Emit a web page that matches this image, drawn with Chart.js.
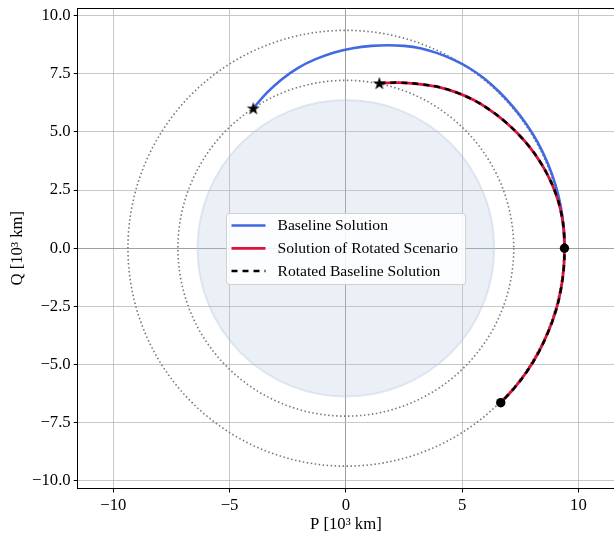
<!DOCTYPE html>
<html><head><meta charset="utf-8">
<script src="https://cdn.jsdelivr.net/npm/chart.js@4.4.0/dist/chart.umd.min.js"></script>
<style>html,body{margin:0;padding:0;background:#fff;overflow:hidden}#wrap{width:614px;height:533px;position:relative}</style>
</head><body><div id="wrap"><canvas id="c" width="614" height="533"></canvas></div>
<script>
// ---- data ----
const seriesLabels = ['Baseline Solution', 'Solution of Rotated Scenario', 'Rotated Baseline Solution'];
const baselineP = [-3.98, -3.40, -2.75, -2.05, -1.30, -0.50, 0.30, 1.10, 1.80, 2.50, 3.20, 3.90, 4.60, 5.30, 5.95, 6.60, 7.20, 7.75, 8.25, 8.68, 9.02, 9.25, 9.37, 9.40];
const baselineQ = [6.02, 6.68, 7.27, 7.76, 8.13, 8.42, 8.60, 8.70, 8.73, 8.70, 8.60, 8.40, 8.12, 7.75, 7.30, 6.72, 6.07, 5.35, 4.55, 3.65, 2.70, 1.75, 0.85, 0.00];
const rotatedP = [1.44, 2.32, 3.15, 3.95, 4.75, 5.50, 6.20, 6.85, 7.42, 7.92, 8.33, 8.70, 9.00, 9.22, 9.36, 9.40, 9.37, 9.25, 9.04, 8.72, 8.30, 7.80, 7.25, 6.66];
const rotatedQ = [7.10, 7.12, 7.06, 6.94, 6.70, 6.37, 5.94, 5.44, 4.90, 4.33, 3.75, 3.10, 2.42, 1.70, 0.90, 0.00, -0.85, -1.75, -2.65, -3.55, -4.45, -5.28, -6.00, -6.64];
const startP = [-3.98, 1.44];
const startQ = [6.02, 7.10];
const endP = [9.40, 6.66];
const endQ = [0.00, -6.64];
const earthRadius = 6.378;
const orbitRadii = [7.22, 9.37];
const xTicks = [-10, -5, 0, 5, 10];
const xTickLabels = ['\u221210', '\u22125', '0', '5', '10'];
const yTicks = [-10, -7.5, -5, -2.5, 0, 2.5, 5, 7.5, 10];
const yTickLabels = ['\u221210.0', '\u22127.5', '\u22125.0', '\u22122.5', '0.0', '2.5', '5.0', '7.5', '10.0'];
const xLimits = [-11.53, 11.53];
const yLimits = [-10.33, 10.33];
const xTitle = 'P [10\u00b3 km]';
const yTitle = 'Q [10\u00b3 km]';

// ---- styling ----
const FONT = '"Liberation Serif", "Times New Roman", serif';
const pts = (P, Q) => P.map((p, i) => ({x: p, y: Q[i]}));

function makeStar(R) {
  const s = Math.ceil(R * 2 + 2);
  const c = document.createElement('canvas');
  c.width = s; c.height = s;
  const g = c.getContext('2d');
  const r = R * 0.381966;
  g.beginPath();
  for (let k = 0; k < 10; k++) {
    const a = -Math.PI / 2 + k * Math.PI / 5;
    const rr = k % 2 === 0 ? R : r;
    const px = s / 2 + rr * Math.cos(a), py = s / 2 + rr * Math.sin(a) + R * 0.08;
    k === 0 ? g.moveTo(px, py) : g.lineTo(px, py);
  }
  g.closePath();
  g.fillStyle = '#000';
  g.fill();
  return c;
}
const starImg = makeStar(6.9);

const circlesPlugin = {
  id: 'circles',
  beforeDatasetsDraw(chart) {
    const {ctx, scales: {x, y}} = chart;
    const cx = x.getPixelForValue(0), cy = y.getPixelForValue(0);
    ctx.save();
    let rx = x.getPixelForValue(earthRadius) - cx, ry = cy - y.getPixelForValue(earthRadius);
    ctx.beginPath();
    ctx.ellipse(cx, cy, rx, ry, 0, 0, Math.PI * 2);
    ctx.fillStyle = 'rgba(176,196,222,0.25)';
    ctx.fill();
    ctx.lineWidth = 2;
    ctx.strokeStyle = 'rgba(176,196,222,0.35)';
    ctx.stroke();
    ctx.setLineDash([1.5, 2.5]);
    ctx.lineWidth = 1.6;
    ctx.strokeStyle = 'rgba(120,120,120,1)';
    orbitRadii.forEach(R => {
      rx = x.getPixelForValue(R) - cx; ry = cy - y.getPixelForValue(R);
      ctx.beginPath();
      ctx.ellipse(cx, cy, rx, ry, 0, 0, Math.PI * 2);
      ctx.stroke();
    });
    ctx.restore();
  }
};

const legendPlugin = {
  id: 'centerLegend',
  afterDatasetsDraw(chart) {
    const {ctx, chartArea} = chart;
    const items = chart.data.datasets.filter(d => seriesLabels.includes(d.label))
      .sort((a, b) => seriesLabels.indexOf(a.label) - seriesLabels.indexOf(b.label));
    ctx.save();
    ctx.font = '15.6px ' + FONT;
    const tw = Math.max(...items.map(d => ctx.measureText(d.label).width));
    const padL = 5, lineLen = 34, gap = 12, padR = 7.5, rowH = 22.8, padT = 12;
    const w = padL + lineLen + gap + tw + padR;
    const h = 71;
    const cxm = (chartArea.left + chartArea.right) / 2, cym = (chartArea.top + chartArea.bottom) / 2;
    const L = Math.round(cxm - w / 2) + 0.5, T = Math.round(cym - h / 2) + 0.5;
    ctx.beginPath();
    ctx.roundRect(L, T, w, h, 3);
    ctx.fillStyle = 'rgba(255,255,255,0.85)';
    ctx.fill();
    ctx.lineWidth = 1;
    ctx.strokeStyle = 'rgba(204,204,204,0.9)';
    ctx.stroke();
    items.forEach((d, i) => {
      const yy = T + padT + i * rowH;
      ctx.beginPath();
      ctx.setLineDash(d.borderDash || []);
      ctx.lineWidth = d.borderWidth;
      ctx.strokeStyle = d.borderColor;
      ctx.moveTo(L + padL, yy);
      ctx.lineTo(L + padL + lineLen, yy);
      ctx.stroke();
      ctx.setLineDash([]);
      ctx.fillStyle = '#000';
      ctx.textBaseline = 'middle';
      ctx.textAlign = 'left';
      ctx.fillText(d.label, L + padL + lineLen + gap, yy + 0.5);
    });
    ctx.restore();
  }
};

const framePlugin = {
  id: 'frame',
  afterDraw(chart) {
    const {ctx, chartArea} = chart;
    ctx.save();
    ctx.strokeStyle = '#000';
    ctx.lineWidth = 1;
    ctx.beginPath();
    const t = Math.round(chartArea.top) + 0.5;
    ctx.moveTo(chartArea.left, t);
    ctx.lineTo(chartArea.right + 2, t);
    ctx.stroke();
    ctx.restore();
  }
};

const gridColor = c => (c.tick && c.tick.value === 0) ? 'rgba(150,150,150,0.9)' : 'rgba(176,176,176,0.7)';

new Chart(document.getElementById('c'), {
  type: 'scatter',
  data: {
    datasets: [
      {label: 'start', data: pts(startP, startQ), showLine: false, pointStyle: starImg, pointRadius: 6, pointHoverRadius: 6},
      {label: 'end', data: pts(endP, endQ), showLine: false, pointStyle: 'circle', pointRadius: 4.7, backgroundColor: '#000', borderWidth: 0, pointBorderWidth: 0},
      {label: seriesLabels[2], data: pts(rotatedP, rotatedQ), showLine: true, borderColor: '#000', borderWidth: 2.5, borderDash: [6, 5], pointRadius: 0, tension: 0.4, fill: false},
      {label: seriesLabels[1], data: pts(rotatedP, rotatedQ), showLine: true, borderColor: '#DC143C', borderWidth: 2.8, pointRadius: 0, tension: 0.4, fill: false},
      {label: seriesLabels[0], data: pts(baselineP, baselineQ), showLine: true, borderColor: '#4169E1', borderWidth: 2.6, pointRadius: 0, tension: 0.4, fill: false}
    ]
  },
  options: {
    responsive: false,
    animation: false,
    devicePixelRatio: 1,
    layout: {padding: {top: 8, right: 0, left: 0, bottom: 0}, autoPadding: false},
    plugins: {legend: {display: false}, tooltip: {enabled: false}},
    scales: {
      x: {
        type: 'linear', position: 'bottom', min: xLimits[0], max: xLimits[1],
        afterBuildTicks: s => { s.ticks = xTicks.map(v => ({value: v})); },
        afterFit: s => { s.height = 44.5; s.paddingLeft = 0; s.paddingRight = 0; },
        ticks: {callback: v => xTickLabels[xTicks.indexOf(v)], color: '#000', font: {family: FONT, size: 16.7}, padding: 3, maxRotation: 0, autoSkip: false},
        grid: {color: gridColor, lineWidth: 1, drawTicks: true, tickLength: 4, tickColor: '#000', tickWidth: 1},
        border: {display: true, color: '#000', width: 1},
        title: {display: true, text: xTitle, color: '#000', font: {family: FONT, size: 16.7}, padding: {top: 0, bottom: -1.5}}
      },
      y: {
        type: 'linear', position: 'left', min: yLimits[0], max: yLimits[1],
        afterBuildTicks: s => { s.ticks = yTicks.map(v => ({value: v})); },
        afterFit: s => { s.width = 77.7; s.paddingTop = 0; s.paddingBottom = 0; },
        ticks: {callback: v => yTickLabels[yTicks.indexOf(v)], color: '#000', font: {family: FONT, size: 16.7}, padding: 3, autoSkip: false},
        grid: {color: gridColor, lineWidth: 1, drawTicks: true, tickLength: 4, tickColor: '#000', tickWidth: 1},
        border: {display: true, color: '#000', width: 1},
        title: {display: true, text: yTitle, color: '#000', font: {family: FONT, size: 16.7}, padding: {top: 8, bottom: 0}}
      }
    }
  },
  plugins: [circlesPlugin, legendPlugin, framePlugin]
});
</script>
</body></html>
